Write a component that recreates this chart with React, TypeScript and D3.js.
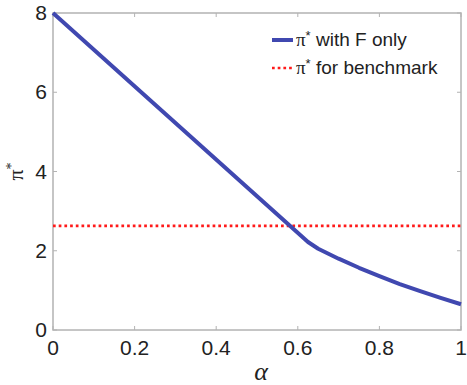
import React, { useEffect, useRef } from 'react';
import * as d3 from 'd3';

// curve "pi* with F only": straight part then convex tail
const alphaF = [0, 0.625, 0.65, 0.7, 0.75, 0.8, 0.85, 0.9, 0.95, 1];
const piF = [8, 2.22, 2.05, 1.8, 1.57, 1.36, 1.16, 0.98, 0.81, 0.65];

// benchmark (constant)
const alphaB = [0, 1];
const piB = [2.63, 2.63];

const xTicks = [0, 0.2, 0.4, 0.6, 0.8, 1];
const yTicks = [0, 2, 4, 6, 8];

const App = () => {
    const svgRef = useRef<SVGSVGElement>(null);

    useEffect(() => {
        const svg = d3.select(svgRef.current);
        svg.selectAll('*').remove();

        const margin = { top: 13, right: 6, bottom: 55, left: 53 };
        const W = 467, H = 385;
        const width = W - margin.left - margin.right;
        const height = H - margin.top - margin.bottom;

        const x = d3.scaleLinear().domain([0, 1]).range([0, width]);
        const y = d3.scaleLinear().domain([0, 8]).range([height, 0]);

        const g = svg.append('g')
            .attr('transform', 'translate(' + margin.left + ',' + margin.top + ')');

        const axisColor = '#b3b3b3';
        const tickFont = 'Liberation Sans, Arial, sans-serif';

        // frame
        g.append('rect')
            .attr('width', width).attr('height', height)
            .attr('fill', 'none')
            .attr('stroke', axisColor)
            .attr('stroke-width', 1.5);

        // inward ticks on all four sides
        const tl = 4;
        xTicks.forEach(t => {
            g.append('line').attr('x1', x(t)).attr('x2', x(t)).attr('y1', height).attr('y2', height - tl)
                .attr('stroke', axisColor).attr('stroke-width', 1);
            g.append('line').attr('x1', x(t)).attr('x2', x(t)).attr('y1', 0).attr('y2', tl)
                .attr('stroke', axisColor).attr('stroke-width', 1);
        });
        yTicks.forEach(t => {
            g.append('line').attr('x1', 0).attr('x2', tl).attr('y1', y(t)).attr('y2', y(t))
                .attr('stroke', axisColor).attr('stroke-width', 1);
            g.append('line').attr('x1', width).attr('x2', width - tl).attr('y1', y(t)).attr('y2', y(t))
                .attr('stroke', axisColor).attr('stroke-width', 1);
        });

        // tick labels
        g.selectAll('.xt')
            .data(xTicks)
            .enter().append('text')
            .attr('class', 'xt')
            .attr('x', d => x(d))
            .attr('y', height + 25)
            .attr('text-anchor', 'middle')
            .attr('font-family', tickFont)
            .attr('font-size', 21)
            .attr('fill', '#222')
            .text(d => d3.format('')(d));

        g.selectAll('.yt')
            .data(yTicks)
            .enter().append('text')
            .attr('class', 'yt')
            .attr('x', -6)
            .attr('y', d => y(d) + 7)
            .attr('text-anchor', 'end')
            .attr('font-family', tickFont)
            .attr('font-size', 21)
            .attr('fill', '#222')
            .text(d => d);

        // axis labels
        g.append('text')
            .attr('x', width / 2 + 4)
            .attr('y', height + 50)
            .attr('text-anchor', 'middle')
            .attr('font-family', 'Liberation Serif, serif')
            .attr('font-style', 'italic')
            .attr('font-size', 26)
            .attr('fill', '#222')
            .text('α');

        const yl = g.append('text')
            .attr('transform', 'translate(' + (-30) + ',' + y(4) + ') rotate(-90)')
            .attr('text-anchor', 'middle')
            .attr('font-family', 'Liberation Serif, serif')
            .attr('font-size', 22)
            .attr('fill', '#222');
        yl.append('tspan').text('π');
        yl.append('tspan').attr('dy', -7).attr('font-size', 14).text('*');

        // data lines
        const line = d3.line<[number, number]>()
            .x(d => x(d[0]))
            .y(d => y(d[1]));

        g.append('path')
            .datum(alphaB.map((a, i) => [a, piB[i]] as [number, number]))
            .attr('d', line)
            .attr('fill', 'none')
            .attr('stroke', '#ff1a1a')
            .attr('stroke-width', 2.7)
            .attr('stroke-dasharray', '2.7 3');

        g.append('path')
            .datum(alphaF.map((a, i) => [a, piF[i]] as [number, number]))
            .attr('d', line)
            .attr('fill', 'none')
            .attr('stroke', '#4048b0')
            .attr('stroke-width', 4)
            .attr('stroke-linejoin', 'round');

        // legend
        const legendItems = [
            { label: ' with F only', color: '#4048b0', width: 4, dash: null },
            { label: ' for benchmark', color: '#ff1a1a', width: 2.7, dash: '2.7 3' }
        ];
        const legend = g.selectAll('.lg')
            .data(legendItems)
            .enter().append('g')
            .attr('class', 'lg')
            .attr('transform', (d, i) => 'translate(219,' + (27 + i * 28) + ')');

        legend.append('line')
            .attr('x1', 0).attr('x2', 21)
            .attr('stroke', d => d.color)
            .attr('stroke-width', d => d.width)
            .attr('stroke-dasharray', d => d.dash);

        const lt = legend.append('text')
            .attr('x', 24)
            .attr('y', 6)
            .attr('font-family', tickFont)
            .attr('font-size', 19)
            .attr('fill', '#222');
        lt.append('tspan').attr('font-family', 'Liberation Serif, serif').text('π');
        lt.append('tspan').attr('dy', -6).attr('font-size', 13).text('*');
        lt.append('tspan').attr('dy', 6).text(d => d.label);
    }, []);

    return (
        <svg ref={svgRef} width="467" height="385"
             style={{ position: 'absolute', left: 0, top: 0, background: '#fff' }}></svg>
    );
};

export default App;
